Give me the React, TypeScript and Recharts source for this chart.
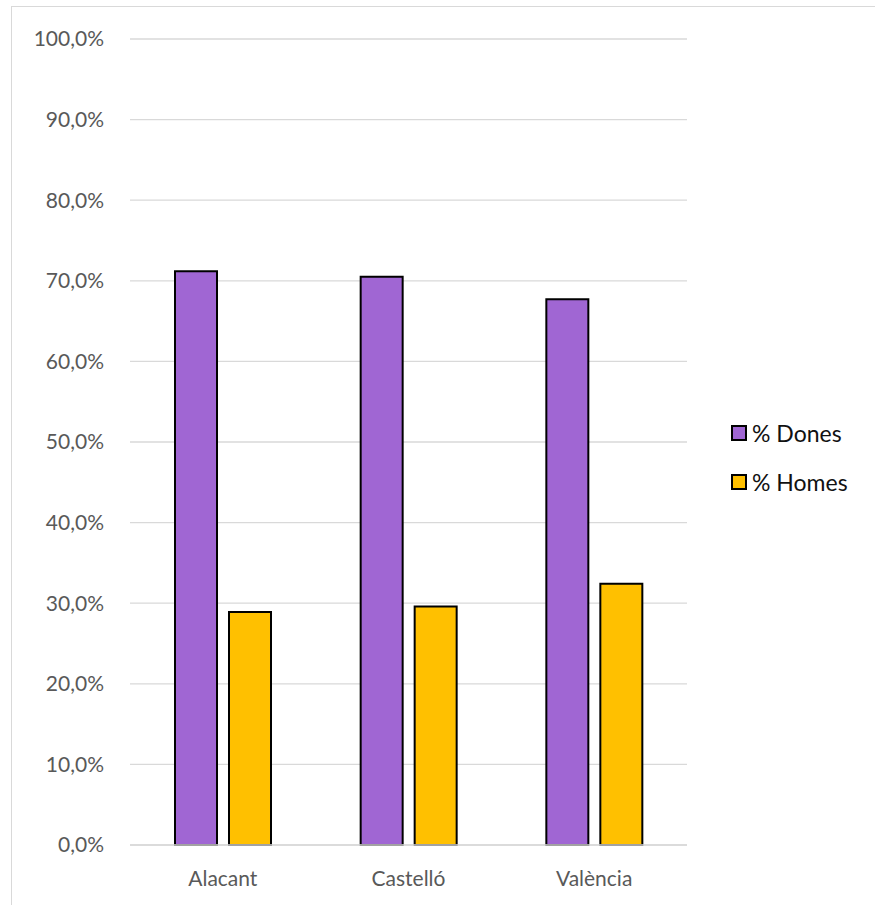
import { BarChart, Bar, XAxis, YAxis, CartesianGrid } from 'recharts';

const provinces = ['Alacant', 'Castelló', 'València'];
const dones = [71.2, 70.5, 67.7];
const homes = [28.9, 29.6, 32.4];
const yTicks = [0, 10, 20, 30, 40, 50, 60, 70, 80, 90, 100];

const data = provinces.map((name, i) => ({ name, dones: dones[i], homes: homes[i] }));

const PURPLE = '#A066D3';
const GOLD = '#FFC000';
const FONT = 'Lato, "Open Sans", sans-serif';

const fmt = (v: number) => v.toFixed(1).replace('.', ',') + '%';

// legend sits outside the chart so it doesn't eat into the plot width
function LegendBox() {
  const items = [
    { label: '% Dones', color: PURPLE },
    { label: '% Homes', color: GOLD },
  ];
  return (
    <div style={{ position: 'absolute', left: 731, top: 408, fontFamily: FONT, fontSize: 23, color: '#111' }}>
      {items.map((it) => (
        <div key={it.label} style={{ display: 'flex', alignItems: 'center', height: 49 }}>
          <span
            style={{
              width: 12,
              height: 12,
              background: it.color,
              border: '2.5px solid #000',
              marginRight: 5,
              display: 'inline-block',
            }}
          />
          <span>{it.label}</span>
        </div>
      ))}
    </div>
  );
}

export default function App() {
  return (
    <div style={{ position: 'absolute', left: 0, top: 0, width: 875, height: 905, background: '#fff', overflow: 'hidden' }}>
      <div
        style={{
          position: 'absolute',
          left: 11,
          top: 6,
          width: 900,
          height: 920,
          border: '1.5px solid #d9d9d9',
        }}
      />
      <BarChart
        width={875}
        height={905}
        data={data}
        margin={{ top: 39, right: 188, bottom: 0, left: 0 }}
        barSize={42}
        barGap={12}
      >
        <CartesianGrid vertical={false} stroke="#d9d9d9" strokeWidth={1.3} />
        <XAxis
          dataKey="name"
          height={60}
          tickSize={0}
          tickMargin={26}
          axisLine={{ stroke: '#d9d9d9', strokeWidth: 1.3 }}
          tickLine={false}
          tick={{ fill: '#595959', fontSize: 21, fontFamily: FONT }}
        />
        <YAxis
          width={130}
          domain={[0, 100]}
          ticks={yTicks}
          tickFormatter={fmt}
          tickSize={0}
          tickMargin={26}
          axisLine={false}
          tickLine={false}
          tick={{ fill: '#595959', fontSize: 21, fontFamily: FONT }}
        />
        <Bar dataKey="dones" name="% Dones" fill={PURPLE} stroke="#000" strokeWidth={2} isAnimationActive={false} />
        <Bar dataKey="homes" name="% Homes" fill={GOLD} stroke="#000" strokeWidth={2} isAnimationActive={false} />
      </BarChart>
      <LegendBox />
    </div>
  );
}
